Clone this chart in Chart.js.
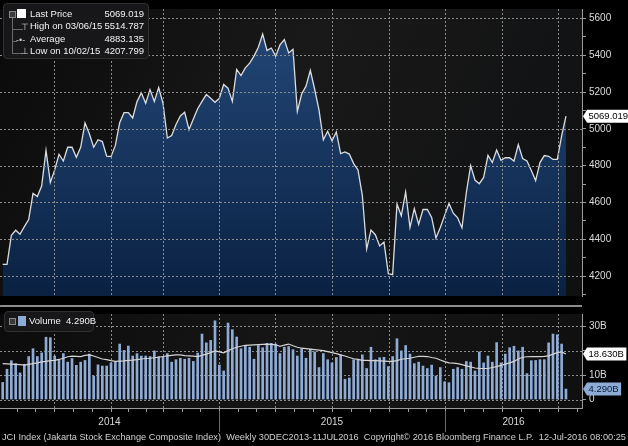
<!DOCTYPE html>
<html>
<head>
<meta charset="utf-8">
<script src="https://cdn.jsdelivr.net/npm/chart.js@4.4.1/dist/chart.umd.min.js"></script>
<style>
  body { margin: 0; background: #000; width: 628px; height: 446px; overflow: hidden;
         font-family: "Liberation Sans", Arial, sans-serif; color: #eee; }
  #wrap { position: relative; width: 628px; height: 446px; }
  canvas { position: absolute; left: 0; }
  #priceChart { top: 0; }
  #volChart { top: 305px; }
  .box { position: absolute; background: rgba(24,24,26,0.96); border: 1px solid #303030; border-radius: 4px; }
  .row { position: absolute; font-size: 9.5px; white-space: nowrap; color: #f2f2f2; }
  .val { position: absolute; font-size: 9.5px; text-align: right; color: #f2f2f2; }
  .ico { position: absolute; font-size: 9px; color: #cfcfcf; line-height: 10px; }
  .tree { position: absolute; background: #6a6a6a; }
  #footer { position: absolute; left: 2px; top: 431px; font-size: 9.5px; color: #d0d0d0;
            white-space: nowrap; transform-origin: 0 0; }
</style>
</head>
<body>
<div id="wrap">
  <canvas id="priceChart" width="628" height="305"></canvas>
  <canvas id="volChart" width="628" height="130"></canvas>

  <div class="box" style="left:3px;top:3px;width:144px;height:54px;">
    <div class="tree" style="left:8px;top:13px;width:1px;height:36px;"></div>
    <div class="tree" style="left:8px;top:25px;width:11px;height:1px;"></div>
    <div class="tree" style="left:8px;top:37px;width:5px;height:1px;"></div>
    <div class="tree" style="left:8px;top:49px;width:11px;height:1px;"></div>
    <div style="position:absolute;left:5px;top:7px;width:5px;height:5px;border:1px solid #888;background:#3a3a3a;"></div>
    <div style="position:absolute;left:13px;top:5px;width:9px;height:9px;background:#fff;"></div>
    <div class="ico" style="left:17px;top:18px;">⊤</div>
    <div class="ico" style="left:12px;top:31px;">-•-</div>
    <div class="ico" style="left:17px;top:42px;">⊥</div>
    <div class="row" style="left:26px;top:4px;">Last Price</div>
    <div class="row" style="left:26px;top:16px;">High on 03/06/15</div>
    <div class="row" style="left:26px;top:29px;">Average</div>
    <div class="row" style="left:26px;top:41px;">Low on 10/02/15</div>
    <div class="val" style="right:4px;top:4px;">5069.019</div>
    <div class="val" style="right:4px;top:16px;">5514.787</div>
    <div class="val" style="right:4px;top:29px;">4883.135</div>
    <div class="val" style="right:4px;top:41px;">4207.799</div>
  </div>

  <div class="box" style="left:4px;top:311px;width:88px;height:19px;">
    <div style="position:absolute;left:4px;top:6px;width:5px;height:5px;border:1px solid #888;background:#3a3a3a;"></div>
    <div style="position:absolute;left:13px;top:4px;width:8px;height:10px;background:#8eabd6;"></div>
    <div class="row" style="left:24px;top:3px;">Volume&nbsp; 4.290B</div>
  </div>

  <div id="footer">JCI Index (Jakarta Stock Exchange Composite Index)&nbsp; Weekly 30DEC2013-11JUL2016&nbsp; Copyright© 2016 Bloomberg Finance L.P.&nbsp; 12-Jul-2016 08:00:25</div>
</div>

<script>
// weekly closes, 2014 -> 11 Jul 2016
const price = [
  4264, 4264, 4422, 4449, 4427, 4469, 4507, 4649, 4632, 4691, 4883, 4709, 4777, 4862, 4825, 4900,
  4900, 4845, 4900, 5033, 4973, 4900, 4941, 4931, 4852, 4849, 4910, 5033, 5088, 5088, 5059, 5148,
  5196, 5139, 5213,
  5149, 5224, 5139, 4950, 4964, 5024, 5070, 5090, 4995, 5053, 5109, 5149, 5186, 5166, 5144, 5166,
  5241, 5221, 5149, 5323, 5289, 5331, 5357, 5395, 5443, 5515, 5426, 5439, 5395, 5456, 5485, 5412, 5432,
  5095, 5189, 5232, 5318, 5215, 5103, 4940, 4987, 4935, 4983, 4866, 4875, 4863, 4811, 4777, 4639,
  4347, 4450, 4425, 4364, 4385, 4213, 4208, 4591, 4528, 4657, 4464, 4567, 4481, 4562, 4562, 4519,
  4407, 4464,
  4530, 4594, 4542, 4517, 4462, 4653, 4800, 4722, 4702, 4736, 4856, 4817, 4885, 4829, 4843, 4843,
  4825, 4914, 4839, 4825, 4774, 4719, 4817, 4855, 4851, 4834, 4834, 4962, 5069.019
];

// weekly volume, billions of shares
const volume = [
  7.0, 12.4, 15.9, 14.7, 10.9, 14.4, 17.6, 20.8, 17.6, 19.1, 25.5, 25.3, 17.8, 16.3, 18.8, 15.3,
  16.8, 14.0, 15.3, 16.0, 18.6, 9.6, 14.2, 13.7, 13.7, 15.0, 15.3, 22.7, 20.1, 21.9, 17.8, 18.8,
  17.8, 17.8, 17.6, 19.9, 17.6, 17.3, 18.8, 15.3, 16.3, 16.9, 16.5, 16.9, 15.6, 19.0,
  26.8, 23.2, 24.2, 32.2, 14.1, 11.7, 31.3, 28.6, 25.6, 20.8, 22.1, 21.4, 16.5, 22.1, 21.2, 23.0,
  23.0, 22.7, 18.8, 21.4, 21.7, 20.4, 17.8, 20.8, 16.9, 20.6, 19.5, 13.1, 18.8, 16.3, 15.0, 17.2,
  18.2, 8.3, 8.8, 16.3, 16.3, 18.3, 12.7, 21.4, 16.3, 17.1, 17.3, 13.5, 17.6,
  24.9, 19.9, 22.1, 18.6, 14.7, 15.3, 13.7, 12.7, 14.1, 9.6, 13.1, 7.3, 6.9, 12.4, 13.1, 12.4,
  15.6, 15.3, 11.7, 19.5, 15.0, 17.8, 15.3, 23.3, 15.0, 18.6, 21.2, 21.8, 19.9, 21.4, 10.6, 15.9,
  16.0, 16.3, 16.3, 23.2, 26.8, 26.5, 22.7, 4.29
];

// volume moving average line
const volumeAvg = [
  14.7, 14.6, 14.5, 14.4, 14.3, 14.1, 14.4, 14.7, 15.0, 15.4, 15.6, 15.9, 16.0, 16.4, 16.9, 17.5,
  17.8, 17.7, 17.6, 18.1, 18.3, 17.8, 17.2, 16.6, 16.3, 15.9, 15.6, 15.7, 15.8, 16.0, 16.1, 16.3,
  16.6, 16.8, 16.9, 17.1, 17.3, 17.6, 17.9, 18.1, 18.3, 18.3, 18.0, 17.9, 17.8, 17.6,
  18.1, 18.6, 19.2, 19.9, 19.5, 19.1, 20.0, 20.8, 21.4, 21.8, 22.2, 22.3, 22.4, 22.5, 22.6, 22.7,
  22.6, 22.4, 21.8, 22.3, 22.7, 22.0, 21.4, 21.0, 20.8, 20.6, 20.4, 20.2, 20.0, 19.6, 19.2, 18.8,
  18.3, 17.8, 17.2, 16.7, 16.4, 16.0, 16.0, 15.9, 15.9, 15.8, 15.7, 15.6, 15.6,
  15.9, 16.5, 16.7, 16.9, 17.3, 17.7, 17.7, 17.6, 17.2, 16.9, 16.2, 15.5, 15.0, 14.9, 14.7, 14.3,
  13.8, 13.4, 12.9, 12.7, 12.7, 12.7, 13.1, 13.5, 14.0, 14.5, 15.0, 15.6, 16.6, 17.3, 17.5, 17.6,
  17.6, 17.6, 17.7, 17.9, 18.6, 19.2, 19.5, 18.63
];

// quarter boundaries in weeks from the first point (Apr14 ... Apr16)
const quarterWeeks = [11.8, 25.0, 37.0, 49.9, 62.8, 76.0, 89.2, 102.1, 115.2, 128.2];
const yearLabels = ['2014', '2015', '2016'];
const yearStarts = [49.9, 102.1];
const lastPrice = 5069.019, lastVolume = 4.29, lastAvg = 18.63;

const X_MIN = -0.62, X_MAX = 133.7;
const FONT = '"Liberation Sans", Arial, sans-serif';
const GRID = '#8c8c8c';

const pricePts = price.map((v, i) => ({ x: i, y: v }));
const volPts = volume.map((v, i) => ({ x: i, y: v }));
const avgPts = volumeAvg.map((v, i) => ({ x: i, y: v }));

// month ticks: each quarter split in three
const monthWeeks = [];
(function () {
  let prev = quarterWeeks[0] - 12.9;
  quarterWeeks.forEach(q => {
    const step = (q - prev) / 3;
    monthWeeks.push(prev + step, prev + 2 * step, q);
    prev = q;
  });
  monthWeeks.push(prev + 4.3);
})();

function panelBg(id, stops) {
  return {
    id: id,
    beforeDraw(chart) {
      const { ctx, chartArea: a } = chart;
      ctx.save();
      ctx.fillStyle = '#000';
      ctx.fillRect(0, 0, chart.width, chart.height);
      const g = ctx.createLinearGradient(a.left, a.top, a.right, a.bottom);
      stops.forEach(s => g.addColorStop(s[0], s[1]));
      ctx.fillStyle = g;
      ctx.fillRect(a.left, a.top, a.right - a.left, a.bottom - a.top);
      ctx.restore();
    }
  };
}

// dotted grid at the y-scale ticks (every yStep) and the quarter boundaries
function dottedGrid(ctx, chart, yStep) {
  const { chartArea: a, scales: { x, y } } = chart;
  ctx.save();
  ctx.strokeStyle = GRID;
  ctx.lineWidth = 1;
  ctx.setLineDash([2, 2]);
  ctx.beginPath();
  y.ticks.forEach(t => {
    if (Math.abs(t.value % yStep) > 1e-6) return;
    const py = Math.round(y.getPixelForValue(t.value)) + 0.5;
    ctx.moveTo(a.left, py);
    ctx.lineTo(a.right, py);
  });
  quarterWeeks.forEach(w => {
    const px = Math.round(x.getPixelForValue(w)) + 0.5;
    ctx.moveTo(px, a.top);
    ctx.lineTo(px, a.bottom);
  });
  ctx.stroke();
  ctx.restore();
}

function drawTag(ctx, x, y, text, bg, fg) {
  ctx.save();
  ctx.font = '9.5px ' + FONT;
  const w = ctx.measureText(text).width + 4, h = 13;
  ctx.fillStyle = bg;
  ctx.beginPath();
  ctx.moveTo(x, y);
  ctx.lineTo(x + 4, y - h / 2);
  ctx.lineTo(x + 4 + w, y - h / 2);
  ctx.lineTo(x + 4 + w, y + h / 2);
  ctx.lineTo(x + 4, y + h / 2);
  ctx.closePath();
  ctx.fill();
  ctx.fillStyle = fg;
  ctx.textBaseline = 'middle';
  ctx.textAlign = 'left';
  ctx.fillText(text, x + 5.5, y + 0.5);
  ctx.restore();
}

const priceDeco = {
  id: 'priceDeco',
  afterDatasetsDraw(chart) {
    dottedGrid(chart.ctx, chart, 200);
  },
  afterDraw(chart) {
    const y = chart.scales.y.getPixelForValue(lastPrice);
    drawTag(chart.ctx, chart.chartArea.right + 1, y, lastPrice.toFixed(3), '#ffffff', '#000000');
  }
};

const volDeco = {
  id: 'volDeco',
  beforeDatasetsDraw(chart) {
    dottedGrid(chart.ctx, chart, 10);
  },
  afterDraw(chart) {
    const { ctx, chartArea: a, scales: { x, y } } = chart;
    ctx.save();
    // separator between the panels
    ctx.fillStyle = '#8c8c8c';
    ctx.fillRect(0, 0, a.right, 2);
    // bottom axis with month ticks
    ctx.strokeStyle = '#9a9a9a';
    ctx.lineWidth = 1;
    ctx.beginPath();
    ctx.moveTo(a.left, a.bottom + 0.5);
    ctx.lineTo(a.right, a.bottom + 0.5);
    monthWeeks.forEach(w => {
      const px = Math.round(x.getPixelForValue(w)) + 0.5;
      if (px < a.left || px > a.right) return;
      ctx.moveTo(px, a.bottom);
      ctx.lineTo(px, a.bottom + 4);
    });
    ctx.stroke();
    // year separators + labels
    ctx.strokeStyle = '#6a6a6a';
    ctx.beginPath();
    yearStarts.forEach(w => {
      const px = Math.round(x.getPixelForValue(w)) + 0.5;
      ctx.moveTo(px, a.bottom + 3);
      ctx.lineTo(px, a.bottom + 24);
    });
    ctx.stroke();
    const edges = [X_MIN].concat(yearStarts, [X_MAX]);
    ctx.fillStyle = '#d8d8d8';
    ctx.font = '10px ' + FONT;
    ctx.textAlign = 'center';
    ctx.textBaseline = 'middle';
    yearLabels.forEach((t, i) => {
      const px = (x.getPixelForValue(edges[i]) + x.getPixelForValue(edges[i + 1])) / 2;
      ctx.fillText(t, px, a.bottom + 14);
    });
    ctx.restore();
    drawTag(ctx, a.right + 1, y.getPixelForValue(lastAvg), lastAvg.toFixed(3) + 'B', '#ffffff', '#000000');
    drawTag(ctx, a.right + 1, y.getPixelForValue(lastVolume), lastVolume.toFixed(3) + 'B', '#8eabd6', '#0a1a33');
  }
};

const xAxis = (h) => ({
  type: 'linear', min: X_MIN, max: X_MAX, offset: false,
  afterFit: s => { s.height = h; },
  ticks: { display: false },
  grid: { display: false },
  border: { display: false }
});

new Chart(document.getElementById('priceChart'), {
  type: 'line',
  data: {
    datasets: [{
      data: pricePts,
      borderColor: '#dcdcdc',
      borderWidth: 1.3,
      pointRadius: 0,
      tension: 0,
      fill: 'start',
      backgroundColor: function (c) {
        const a = c.chart.chartArea;
        if (!a) return '#15355c';
        const g = c.chart.ctx.createLinearGradient(0, a.top, 0, a.bottom);
        g.addColorStop(0, '#24497a');
        g.addColorStop(1, '#0a2142');
        return g;
      }
    }]
  },
  options: {
    responsive: false,
    animation: false,
    layout: { padding: { left: 0, top: 0, right: 0, bottom: 2 } },
    plugins: { legend: { display: false }, tooltip: { enabled: false } },
    scales: {
      x: xAxis(0),
      y: {
        position: 'right', min: 4092, max: 5651,
        afterFit: s => { s.width = 46; },
        ticks: {
          stepSize: 100, includeBounds: false, padding: 3,
          color: '#dcdcdc', font: { size: 10, family: FONT },
          callback: v => (v % 200 === 0 ? String(v) : '')
        },
        grid: { drawOnChartArea: false, color: '#9a9a9a', tickLength: 4 },
        border: { display: true, color: '#9a9a9a', width: 1 }
      }
    }
  },
  plugins: [panelBg('priceBg', [[0, '#0a0a0b'], [0.45, '#191919'], [1, '#0f1012']]), priceDeco]
});

new Chart(document.getElementById('volChart'), {
  type: 'bar',
  data: {
    datasets: [
      {
        type: 'line', data: avgPts, order: 0,
        borderColor: '#d4d4d4', borderWidth: 1.2, pointRadius: 0, tension: 0, fill: false
      },
      {
        type: 'bar', data: volPts, order: 1,
        backgroundColor: '#8eabd6', barThickness: 2
      }
    ]
  },
  options: {
    responsive: false,
    animation: false,
    layout: { padding: { left: 0, top: 3, right: 0, bottom: 0 } },
    plugins: { legend: { display: false }, tooltip: { enabled: false } },
    scales: {
      x: xAxis(27),
      y: {
        position: 'right', min: -3.46, max: 35,
        afterFit: s => { s.width = 46; },
        ticks: {
          stepSize: 10, includeBounds: false, padding: 3,
          color: '#dcdcdc', font: { size: 10, family: FONT },
          callback: v => (v === 0 ? '0' : (v === 20 ? '' : v + 'B'))
        },
        grid: { drawOnChartArea: false, color: '#9a9a9a', tickLength: 4 },
        border: { display: true, color: '#9a9a9a', width: 1 }
      }
    }
  },
  plugins: [panelBg('volBg', [[0, '#0c0c0c'], [0.5, '#161616'], [1, '#101010']]), volDeco]
});

// squeeze the footer onto one line like the original
const foot = document.getElementById('footer');
const fw = foot.getBoundingClientRect().width;
foot.style.transform = 'scaleX(' + (624 / fw) + ')';
</script>
</body>
</html>
